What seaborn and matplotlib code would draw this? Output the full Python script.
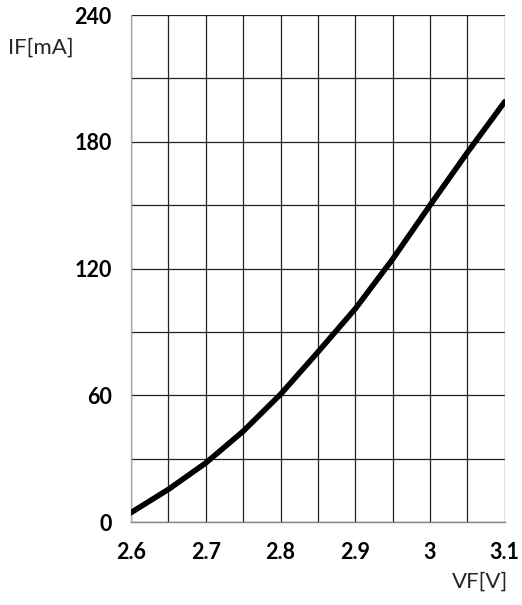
import matplotlib
matplotlib.use("Agg")
import matplotlib.pyplot as plt
import seaborn as sns
import pandas as pd
import numpy as np

vf = [2.60, 2.65, 2.70, 2.75, 2.80, 2.85, 2.90, 2.95, 3.00, 3.05, 3.10]
if_ma = [4.5, 15.5, 28, 43, 60.5, 80.5, 101, 124.5, 150, 175, 199]
x_ticks = [2.6, 2.7, 2.8, 2.9, 3.0, 3.1]
x_tick_labels = ["2.6", "2.7", "2.8", "2.9", "3", "3.1"]
y_ticks = [0, 60, 120, 180, 240]

sns.set_theme(style="white")
plt.rcParams['font.family'] = ['Lato', 'DejaVu Sans']

df = pd.DataFrame({"VF": vf, "IF": if_ma})
fig = plt.figure(figsize=(5.22, 6.05), dpi=100)
ax = fig.add_axes([0.251, 0.137, 0.716, 0.838])

sns.lineplot(data=df, x="VF", y="IF", ax=ax, color="black", linewidth=4, zorder=3)

ax.set_xlim(2.6, 3.1)
ax.set_ylim(0, 240)
ax.set_xticks(np.arange(2.6, 3.1001, 0.05), minor=True)
ax.set_yticks(np.arange(0, 241, 30), minor=True)
ax.set_xticks(x_ticks)
ax.set_xticklabels(x_tick_labels, fontsize=15.5, fontweight="bold")
ax.set_yticks(y_ticks)
ax.set_yticklabels([str(v) for v in y_ticks], fontsize=15.5, fontweight="bold")
ax.grid(True, which="both", color="#222222", linewidth=0.9)
ax.tick_params(axis="both", which="major", length=6, width=1, color="#aaaaaa", pad=8, labelcolor="black")
ax.tick_params(axis="both", which="minor", length=0)
for s in ["top", "right"]:
    ax.spines[s].set_visible(False)
ax.spines["left"].set_color("#aaaaaa")
ax.spines["bottom"].set_color("#888888")
ax.spines["left"].set_linewidth(1)
ax.spines["bottom"].set_linewidth(1)
ax.set_xlabel("")
ax.set_ylabel("")

fig.text(8/522, 1-48/605, "IF[mA]", fontsize=16, ha="left", va="center")
fig.text(508/522, 1-582/605, "VF[V]", fontsize=16, ha="right", va="center")

fig.savefig("out.png", dpi=100)
